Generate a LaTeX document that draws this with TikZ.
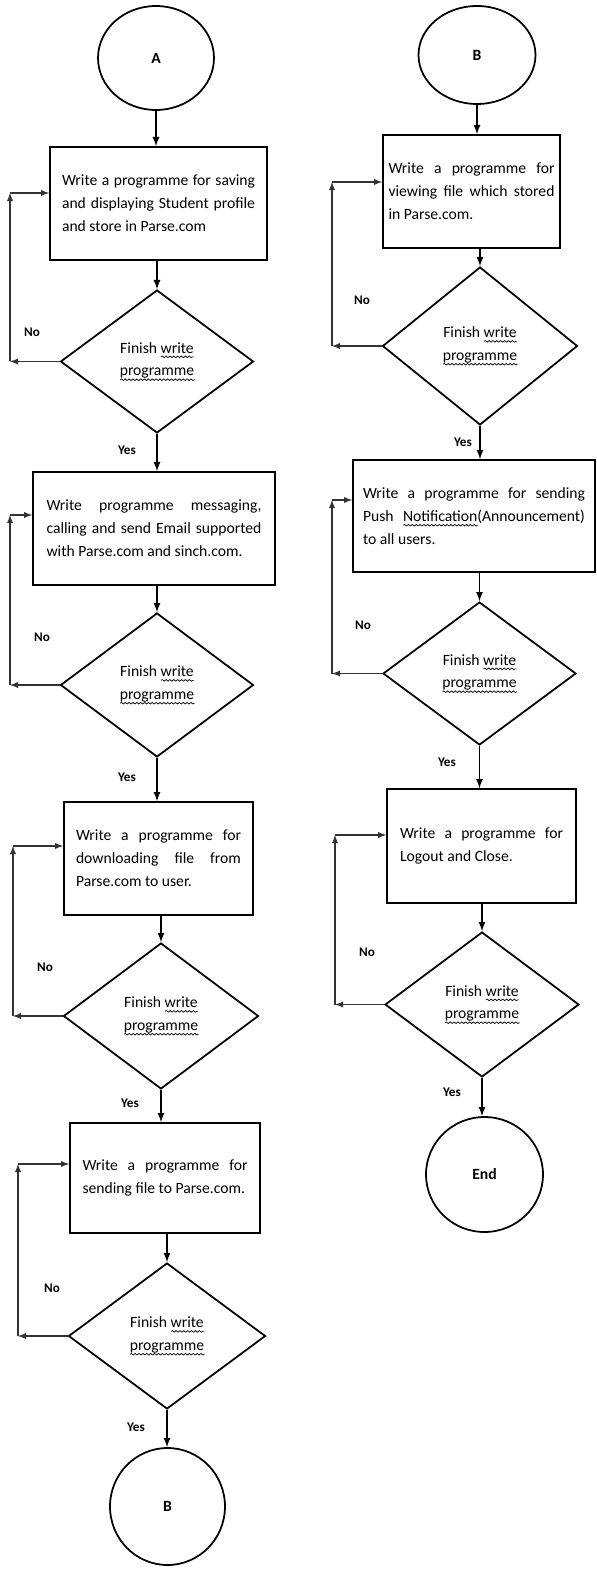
\documentclass[tikz,border=0pt]{standalone}
\usepackage{fontspec}
\setmainfont{Carlito}
\usetikzlibrary{shapes.geometric,arrows,decorations.pathmorphing}
\newcommand{\boxfont}{\fontsize{8.9pt}{13pt}\selectfont}
\newlength{\squigwd}
\newcommand{\squig}[1]{\settowidth{\squigwd}{#1}\rlap{\tikz[baseline=0pt]\draw[line width=0.4pt, decorate, decoration={snake, amplitude=0.45pt, segment length=2.2pt}] (0pt,-2.2pt) -- (\squigwd,-2.2pt);}#1}

\begin{document}
\begin{tikzpicture}[
    x=0.02cm, y=-0.02cm,
    box/.style={rectangle, draw=black, line width=1pt, font=\boxfont, align=justify, inner sep=0pt, minimum height=2.26cm},
    decision/.style={diamond, draw=black, line width=1pt, font=\boxfont, align=center, inner sep=0pt},
    term/.style={ellipse, draw=black, line width=1pt, font=\boxfont\bfseries, minimum width=2.32cm, minimum height=2.08cm},
    flow/.style={-latex, line width=0.8pt},
    back/.style={-latex, line width=0.6pt, black!80},
    lbl/.style={font=\fontsize{7.5pt}{9pt}\selectfont\bfseries},
]
\useasboundingbox (0,0) rectangle (596,1574);

% left column
\node[term] (A) at (156,58) {A};
\node[box, minimum width=4.34cm, text width=3.86cm] (b1) at (158.5,203.5) {Write a programme for saving \linebreak and displaying Student profile \linebreak and store in Parse.com};
\node[decision, minimum width=3.86cm, minimum height=2.86cm] (d1) at (157,361.5) {Finish \squig{write}\\\squig{programme}};
\node[box, minimum width=4.84cm, text width=4.3cm] (b2) at (154,528.5) {Write programme messaging, \linebreak calling and send Email supported \linebreak with Parse.com and sinch.com.};
\node[decision, minimum width=3.86cm, minimum height=2.88cm] (d2) at (157,685) {Finish \squig{write}\\\squig{programme}};
\node[box, minimum width=3.78cm, text width=3.3cm] (b3) at (158.5,858.5) {Write a programme for \linebreak downloading file from \linebreak Parse.com to user.};
\node[decision, minimum width=3.9cm, minimum height=2.92cm] (d3) at (161,1016) {Finish \squig{write}\\\squig{programme}};
\node[box, minimum width=3.8cm, minimum height=2.2cm, text width=3.3cm] (b4) at (165,1178) {Write a programme for \linebreak sending file to Parse.com.};
\node[decision, minimum width=3.94cm, minimum height=2.92cm] (d4) at (167,1336) {Finish \squig{write}\\\squig{programme}};
\node[term, minimum width=2.3cm, minimum height=2.34cm] (B1) at (167.5,1506.5) {B};

% right column
\node[term, minimum width=2.34cm, minimum height=1.96cm] (B2) at (477,55) {B};
\node[box, minimum width=3.54cm, text width=3.32cm] (b5) at (471.5,191.5) {Write a programme for \linebreak viewing file which stored \linebreak in Parse.com.};
\node[decision, minimum width=3.9cm, minimum height=3.16cm] (d5) at (480,346) {Finish \squig{write}\\\squig{programme}};
\node[box, minimum width=4.84cm, minimum height=2.24cm, text width=4.44cm] (b6) at (474,516) {Write a programme for sending \linebreak Push \squig{Notification}(Announcement) \linebreak to all users.};
\node[decision, minimum width=3.86cm, minimum height=2.86cm] (d6) at (479.5,673.5) {Finish \squig{write}\\\squig{programme}};
\node[box, minimum width=3.78cm, minimum height=2.28cm, text width=3.26cm] (b7) at (481.5,846) {Write a programme for \linebreak Logout and Close.};
\node[decision, minimum width=3.88cm, minimum height=2.9cm] (d7) at (482,1004.5) {Finish \squig{write}\\\squig{programme}};
\node[term, minimum width=2.34cm, minimum height=2.3cm] (E) at (484.5,1174.5) {End};

% main flow
\draw[flow] (A.south) -- (A.south |- b1.north);
\draw[flow] (b1.south -| d1.north) -- (d1.north);
\draw[flow] (d1.south) -- (d1.south |- b2.north);
\draw[flow] (b2.south -| d2.north) -- (d2.north);
\draw[flow] (d2.south) -- (d2.south |- b3.north);
\draw[flow] (b3.south -| d3.north) -- (d3.north);
\draw[flow] (d3.south) -- (d3.south |- b4.north);
\draw[flow] (b4.south -| d4.north) -- (d4.north);
\draw[flow] (d4.south) -- (d4.south |- B1.north);

\draw[flow] (B2.south) -- (B2.south |- b5.north);
\draw[flow] (b5.south -| d5.north) -- (d5.north);
\draw[flow] (d5.south) -- (d5.south |- b6.north);
\draw[flow] (b6.south -| d6.north) -- (d6.north);
\draw[flow] (d6.south) -- (d6.south |- b7.north);
\draw[flow] (b7.south -| d7.north) -- (d7.north);
\draw[flow] (d7.south) -- (d7.south |- E.north);

% Yes labels
\node[lbl] at (127,450) {Yes};
\node[lbl] at (127,777) {Yes};
\node[lbl] at (130,1103) {Yes};
\node[lbl] at (136,1427) {Yes};
\node[lbl] at (463,442) {Yes};
\node[lbl] at (447,762) {Yes};
\node[lbl] at (452,1092) {Yes};

% No labels
\node[lbl] at (32,332) {No};
\node[lbl] at (42,637) {No};
\node[lbl] at (45,967) {No};
\node[lbl] at (52,1288) {No};
\node[lbl] at (362,300) {No};
\node[lbl] at (363,625) {No};
\node[lbl] at (367,952) {No};

% back loops
\coordinate (n1) at (10,193);
\coordinate (n2) at (10,515);
\coordinate (n3) at (13,846);
\coordinate (n4) at (18,1164);
\coordinate (n5) at (332,182);
\coordinate (n6) at (332,500);
\coordinate (n7) at (335,835);

\draw[back] (d1.west) -- (d1.west -| n1);
\draw[back] (d1.west -| n1) -- (n1);
\draw[back] (n1) -- (n1 -| b1.west);
\draw[back] (d2.west) -- (d2.west -| n2);
\draw[back] (d2.west -| n2) -- (n2);
\draw[back] (n2) -- (n2 -| b2.west);
\draw[back] (d3.west) -- (d3.west -| n3);
\draw[back] (d3.west -| n3) -- (n3);
\draw[back] (n3) -- (n3 -| b3.west);
\draw[back] (d4.west) -- (d4.west -| n4);
\draw[back] (d4.west -| n4) -- (n4);
\draw[back] (n4) -- (n4 -| b4.west);
\draw[back] (d5.west) -- (d5.west -| n5);
\draw[back] (d5.west -| n5) -- (n5);
\draw[back] (n5) -- (n5 -| b5.west);
\draw[back] (d6.west) -- (d6.west -| n6);
\draw[back] (d6.west -| n6) -- (n6);
\draw[back] (n6) -- (n6 -| b6.west);
\draw[back] (d7.west) -- (d7.west -| n7);
\draw[back] (d7.west -| n7) -- (n7);
\draw[back] (n7) -- (n7 -| b7.west);

\end{tikzpicture}
\end{document}
